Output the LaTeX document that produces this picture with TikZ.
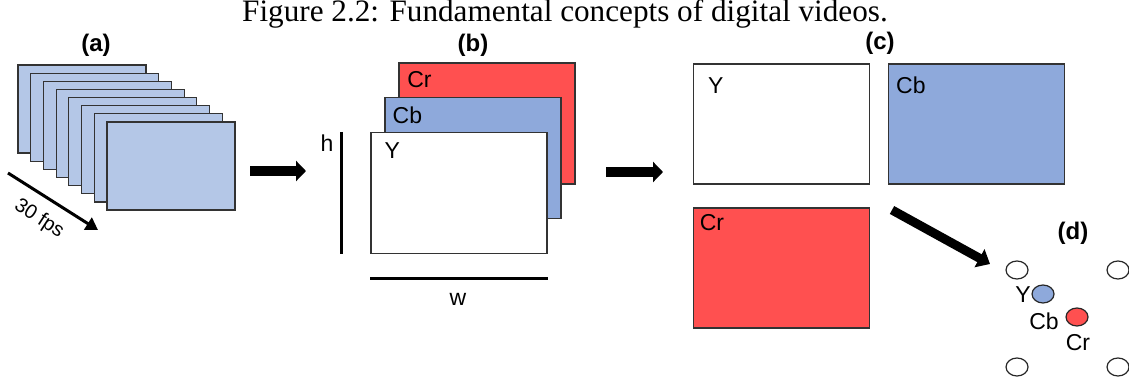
\documentclass[tikz,border=0pt]{standalone}
\usepackage{fontspec}
\setmainfont{Liberation Sans}
\newfontfamily\capfont{Liberation Serif}
\usetikzlibrary{arrows.meta,shapes.geometric}
\definecolor{framebl}{HTML}{B4C7E7}
\definecolor{chromab}{HTML}{8EA9DB}
\definecolor{chromar}{HTML}{FF5050}
\tikzset{
  plane/.style={draw=black!80, line width=0.6pt, rectangle, inner sep=0pt},
  frame/.style={plane, fill=framebl, minimum width=64pt, minimum height=44pt},
  chan/.style={plane, minimum width=88pt, minimum height=60pt},
  lab/.style={font=\fontsize{11.5}{13}\selectfont, inner sep=0pt},
  tag/.style={font=\bfseries\fontsize{12}{14}\selectfont, inner sep=0pt},
  blk/.style={line width=5pt, -{Triangle[length=5pt,width=10pt]}},
  samp/.style={draw=black!85, ellipse, line width=0.6pt, minimum width=11pt, minimum height=9pt, inner sep=0pt},
}
\begin{document}
\begin{tikzpicture}[x=0.5pt, y=-0.5pt]
\useasboundingbox (0,0) rectangle (1129,385);
\node[font=\capfont\fontsize{15.6}{17}\selectfont, inner sep=0pt] (cap) at (565,14) {Figure 2.2: Fundamental concepts of digital videos.};
% ---------- (a): the frames ----------
\node[tag] (ta) at (96,45) {(a)};
\foreach \i in {0,...,7} {
  \node[frame] (f\i) at ({82+12.7*\i},{109+8.15*\i}) {};
}
\coordinate (fps0) at (8,173);
\coordinate (fps1) at (98,230);
\draw[line width=1.5pt, -{Triangle[length=6pt,width=7pt]}] (fps0) -- (fps1);
\node[lab, font=\fontsize{10}{12}\selectfont, rotate=-33] (fps) at (39,219) {30 fps};
\coordinate (ab0) at (250,171);
\coordinate (ab1) at (306,171);
\draw[blk] (ab0) -- (ab1);
% ---------- (b): the three planes ----------
\node[tag] (tb) at (473,45) {(b)};
\node[chan, fill=chromar, minimum height=60.5pt] (bcr) at (487,123.5) {};
\node[lab] (bcrl) at ([shift={(21,17)}]bcr.north west) {Cr};
\node[chan, fill=chromab, minimum height=60.5pt] (bcb) at (473,158) {};
\node[lab] (bcbl) at ([shift={(23,18)}]bcb.north west) {Cb};
\node[chan, fill=white, minimum height=60.5pt] (by) at (459,193) {};
\node[lab] (byl) at ([shift={(22,19)}]by.north west) {Y};
% height and width
\draw[line width=1.5pt] ([xshift=-14.5pt]by.north west) -- ([xshift=-14.5pt]by.south west);
\node[lab] (hl) at (327,143) {h};
\draw[line width=1.5pt] ([yshift=-12pt]by.south west) -- ([yshift=-12pt]by.south east);
\node[lab] (wl) at (458,299) {w};
\coordinate (bc0) at (606,172);
\coordinate (bc1) at (663,172);
\draw[blk] (bc0) -- (bc1);
% ---------- (c): the planes apart ----------
\node[tag] (tc) at (880,43) {(c)};
\node[chan, fill=white] (cy) at (781.5,124) {};
\node[lab] (cyl) at ([shift={(23,22)}]cy.north west) {Y};
\node[chan, fill=chromab] (ccb) at (976.5,124) {};
\node[lab] (ccbl) at ([shift={(23,22)}]ccb.north west) {Cb};
\node[chan, fill=chromar] (ccr) at (781.5,268) {};
\node[lab] (ccrl) at ([shift={(19,15)}]ccr.north west) {Cr};
\coordinate (cd0) at (892,210);
\coordinate (cd1) at (990,264);
\draw[line width=4.5pt, -{Triangle[length=6pt,width=10pt]}] (cd0) -- (cd1);
% ---------- (d): the samples ----------
\node[tag] (td) at (1073,233) {(d)};
\foreach \n/\px/\py in {s1/1017/270, s2/1118/270, s3/1017/367, s4/1118/367} {
  \node[samp, fill=white] (\n) at (\px,\py) {};
}
\node[samp, fill=chromab] (sb) at (1043,294) {};
\node[samp, fill=chromar] (sr) at (1077,317) {};
\node[lab] (syl) at (1023,295) {Y};
\node[lab] (sbl) at (1044,321) {Cb};
\node[lab] (srl) at (1078,343) {Cr};
\end{tikzpicture}
\end{document}
